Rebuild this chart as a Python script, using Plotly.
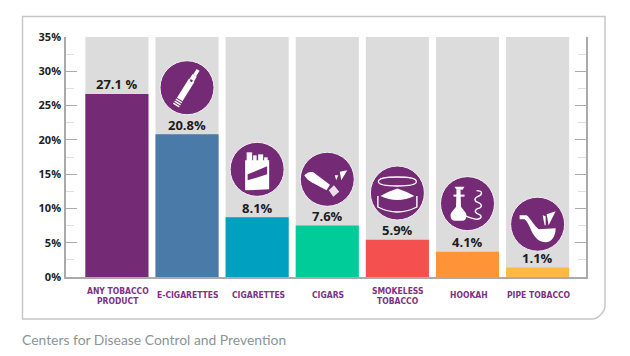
import plotly.graph_objects as go

categories = ["ANY TOBACCO PRODUCT", "E-CIGARETTES", "CIGARETTES", "CIGARS",
              "SMOKELESS TOBACCO", "HOOKAH", "PIPE TOBACCO"]
label_lines = [["ANY TOBACCO", "PRODUCT"], ["E-CIGARETTES"], ["CIGARETTES"], ["CIGARS"],
               ["SMOKELESS", "TOBACCO"], ["HOOKAH"], ["PIPE TOBACCO"]]
bar_heights = [26.7, 20.8, 8.7, 7.5, 5.45, 3.7, 1.37]
value_labels = ["27.1 %", "20.8%", "8.1%", "7.6%", "5.9%", "4.1%", "1.1%"]
bar_colors = ["#752a75", "#4a7aa8", "#00a0c0", "#00cc99", "#f55050", "#ff9436", "#fdb944"]
background_top = [35] * 7
icon_y = [None, 27.6, 15.7, 14.25, 12.25, 10.7, 7.7]
y_ticks = [0, 5, 10, 15, 20, 25, 30, 35]
y_tick_text = ["0%", "5%", "10%", "15%", "20%", "25%", "30%", "35%"]
source = "Centers for Disease Control and Prevention"

PURPLE = "#752a75"
x = list(range(len(categories)))
L, R, T, B = 66, 586, 37, 277
PAGE_INSET = 8  # the page body's default margin


def flip(path):
    """Local glyph paths are written y-down; pixel-sized shapes are y-up."""
    out = []
    for tok in path.split():
        if "," in tok:
            cmd = ""
            if tok[0].isalpha():
                cmd, tok = tok[0], tok[1:]
            a, b = tok.split(",")
            out.append(f"{cmd}{float(a):.2f},{-float(b):.2f}")
        else:
            out.append(tok)
    return " ".join(out)


def poly(points):
    return "M" + " L".join(f"{a:.2f},{b:.2f}" for a, b in points) + " Z"


def rod(t0, t1, w):
    ux, uy = 0.527, -0.85
    nx, ny = 0.85, 0.527
    h = w / 2
    return poly([(ux*t0+nx*h, uy*t0+ny*h), (ux*t1+nx*h, uy*t1+ny*h),
                 (ux*t1-nx*h, uy*t1-ny*h), (ux*t0-nx*h, uy*t0-ny*h)])


W = "#ffffff"
CLEAR = "rgba(0,0,0,0)"
# (path, fill, line width)
glyphs = {
    1: [(rod(-21, -19.6, 7), W, 0), (rod(-18.6, -17.2, 7), W, 0), (rod(-16.2, -14.8, 7), W, 0),
        (rod(-13.8, 9, 6.5), W, 0), (rod(9, 14.5, 5), W, 0), (rod(14.5, 21, 3.5), W, 0),
        (rod(7.2, 9.2, 2.4), PURPLE, 0)],
    2: [(poly([(-10.5, -17), (-5, -17), (-5, -8), (-10.5, -8)]), W, 0),
        (poly([(-4, -14), (-0.5, -14), (-0.5, -8), (-4, -8)]), W, 0),
        (poly([(1, -15), (6, -15), (6, -8), (1, -8)]), W, 0),
        (poly([(7, -12), (10.5, -12), (10.5, -8), (7, -8)]), W, 0),
        (poly([(-12, -9), (12, -9), (12, 20), (-12, 21)]), W, 0),
        (poly([(-9.5, 5), (10, -3), (10, 5), (-9.5, 11)]), PURPLE, 0)],
    3: [("M-23,-4 C-20,-7 -17,-8 -14,-7 L2.7,5.5 L-0.7,11 L-15.7,3 C-19,1 -21,-1 -23,-4 Z", W, 0),
        (poly([(1.5, 11), (6.7, 6), (12, 12.5), (6, 17.5)]), "#eadfea", 0),
        (poly([(7.5, -4), (11, -4), (9, 1)]), W, 0),
        (poly([(12.5, -7.5), (20, -9), (14, 1)]), W, 0)],
    4: [("M-19,-11.5 Q-19,-16 0,-16 Q19,-16 19,-11.5 Q19,-7 0,-7 Q-19,-7 -19,-11.5 Z", CLEAR, 1.3),
        ("M-19.5,3 L-19.5,14 Q0,24 19.5,14 L19.5,3", CLEAR, 1.4),
        ("M-17,3 Q-8,-2 0,-4.5 Q8,-2 17,3 Q0,11 -17,3 Z", W, 0)],
    5: [(poly([(-13, -17), (-3, -17), (-5, -14), (-11, -14)]), W, 0),
        (poly([(-11, -14), (-7, -14), (-6.5, 4), (-11.5, 4)]), W, 0),
        (poly([(-14, -9), (-3, -9), (-3, -7), (-14, -7)]), W, 0),
        ("M-11.5,3 L-6.5,3 C-5,6 -1,8 -1,12 C-1,15 -3,17 -5,17 L-13,17 C-15,17 -17,15 -17,12 C-17,8 -13,6 -11.5,3 Z", W, 0),
        ("M9,-13 C16,-13 15,-9 10,-7 C6,-5 7,-2 11,-1 C15,1 15,4 10,5 C6,7 8,10 12,11 C16,13 12,17 6,15 C2,14 0,13 -3,12", CLEAR, 1.4)],
    6: [("M-18,-9 L-11,-9 C-7,-6 -4,1 1,5 L18,4 C18,12 14,18 8,18 C2,18 -2,14 -5,9 C-8,3 -10,-3 -13,-5 L-18,-5 Z", W, 0),
        (poly([(5, -9), (8, -8), (8, 1), (7, 1)]), W, 0),
        (poly([(9, -10), (18, -13), (11, 1)]), W, 0)],
}

fig = go.Figure()
fig.add_bar(x=x, y=background_top, width=0.9, marker_color="#dcdcdc", marker_line_width=0,
            hoverinfo="skip", showlegend=False)
fig.add_bar(x=x, y=bar_heights, width=0.9, marker_color=bar_colors, marker_line_width=0,
            customdata=categories, showlegend=False)
fig.add_scatter(x=x[1:], y=icon_y[1:], mode="markers",
                marker=dict(size=54, color=PURPLE, line=dict(color="#f4f0f4", width=1)),
                hoverinfo="skip", showlegend=False)
fig.add_scatter(x=x, y=bar_heights, mode="none", yaxis="y2", hoverinfo="skip", showlegend=False)

shapes = []
fx = lambda p: (p - L) / (R - L)
fy = lambda p: (B - p) / (B - T)
r = 13
fl, ft, fr, fb = 22.5, 16.5, 605, 319
c = r * 0.45
frame = (f"M{fx(fl)},{fy(ft)} L{fx(fr)},{fy(ft)} L{fx(fr)},{fy(fb-r)} "
         f"C{fx(fr)},{fy(fb-r+c)} {fx(fr-r+c)},{fy(fb)} {fx(fr-r)},{fy(fb)} "
         f"L{fx(fl)},{fy(fb)} Z")
shapes.append(dict(type="path", path=frame, xref="paper", yref="paper", layer="below",
                   line=dict(color="#c6c6c6", width=1.5)))
for i, parts in glyphs.items():
    for path, fill, lw in parts:
        shapes.append(dict(type="path", path=flip(path), xref="x", yref="y",
                           xsizemode="pixel", ysizemode="pixel", xanchor=x[i], yanchor=icon_y[i],
                           fillcolor=fill, line=dict(color=W, width=lw)))

annotations = []
for i, text in enumerate(value_labels):
    annotations.append(dict(x=x[i], y=bar_heights[i], text=f"<b>{text}</b>", showarrow=False,
                            yanchor="middle", yshift=9.5, xanchor="center",
                            font=dict(family="Open Sans", size=13, color="#1c1c1c")))
for i, lines in enumerate(label_lines):
    ys = [295.3] if len(lines) == 1 else [291.3, 300.7]
    for line, py in zip(lines, ys):
        annotations.append(dict(x=x[i], y=fy(py), yref="paper", xshift=1, text=f"<b>{line}</b>",
                                showarrow=False, yanchor="middle", xanchor="center",
                                font=dict(family="DejaVu Sans Condensed", size=8.5, color="#7c3382")))
annotations.append(dict(x=fx(19.5), y=fy(339), xref="paper", yref="paper", text=source, showarrow=False,
                        xanchor="left", yanchor="middle",
                        font=dict(family="Lato", size=13.9, color="#8a9598")))

axis_common = dict(range=[0, 35], tickvals=y_ticks, ticks="inside", ticklen=11, tickwidth=1.3,
                   tickcolor="#aaaaaa", showline=True, linecolor="#aaaaaa", linewidth=1.5,
                   showgrid=False, zeroline=False,
                   minor=dict(dtick=2.5, ticks="inside", ticklen=8, tickwidth=1, tickcolor="#dedede", showgrid=False))
fig.update_layout(
    width=630 - PAGE_INSET, height=356 - PAGE_INSET, autosize=False, paper_bgcolor="white", plot_bgcolor="white",
    margin=dict(l=L - PAGE_INSET, r=630 - R, t=T - PAGE_INSET, b=356 - B, pad=0), barmode="overlay", showlegend=False,
    xaxis=dict(range=[-0.726, 6.69], showticklabels=False, ticks="", showgrid=False, zeroline=False,
               showline=True, linecolor="#aaaaaa", linewidth=1.5, layer="above traces"),
    yaxis=dict(ticktext=y_tick_text, ticklabelstandoff=1,
               tickfont=dict(family="Open Sans", size=11, color="#222222", weight="bold"), **axis_common),
    yaxis2=dict(overlaying="y", side="right", showticklabels=False, **axis_common),
    shapes=shapes, annotations=annotations,
)
fig.write_html("out.html")
